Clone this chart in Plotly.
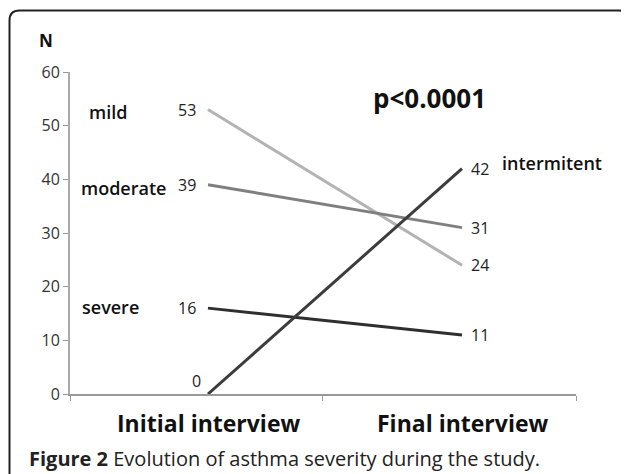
import plotly.graph_objects as go

# ---- data ----
stages = ["Initial interview", "Final interview"]
series_names = ["mild", "moderate", "severe", "intermitent"]
initial_vals = [53, 39, 16, 0]
final_vals = [24, 31, 11, 42]
series_colors = ["#b3b3b3", "#7f7f7f", "#2f2f2f", "#3c3c3c"]
y_ticks = [0, 10, 20, 30, 40, 50, 60]
p_text = "p<0.0001"

# page has an 8px body margin; work in window pixels and convert
OFF = 8
W, H = 629 - OFF, 474 - OFF
PLOT_L, PLOT_R, PLOT_T, PLOT_B = 70, 576, 72, 394   # window pixels
ML, MT = PLOT_L - OFF, PLOT_T - OFF
PW, PH = PLOT_R - PLOT_L, PLOT_B - PLOT_T
MR, MB = W - ML - PW, H - MT - PH

def px_x(px):
    return (px - PLOT_L) / PW

def px_y(py):
    return (PLOT_B - py) / PH

# data x positions: Initial at window x 208, Final at 462
X0PX, X1PX = 208, 462
def dx(px):
    return (px - X0PX) / (X1PX - X0PX)

def dy(py):
    return (PLOT_B - py) / PH * 60

fig = go.Figure()
xpos = [0, 1]
for name, a, b, c in zip(series_names, initial_vals, final_vals, series_colors):
    fig.add_trace(go.Scatter(x=xpos, y=[a, b], mode="lines",
                             line=dict(color=c, width=3), name=name,
                             showlegend=False, hoverinfo="skip"))

ann = []
font_val = dict(family="Open Sans", size=16, color="#222")
for name, a, b in zip(series_names, initial_vals, final_vals):
    if a == 0:
        ann.append(dict(x=0, y=a, text=str(a), showarrow=False, xanchor="right",
                        yanchor="bottom", xshift=-5, yshift=0, font=font_val))
    else:
        ann.append(dict(x=0, y=a, text=str(a), showarrow=False, xanchor="right",
                        yanchor="middle", xshift=-10, font=font_val))
    ann.append(dict(x=1, y=b, text=str(b), showarrow=False, xanchor="left",
                    yanchor="middle", xshift=7, font=font_val))

font_name = dict(family="Open Sans", size=18, color="#111", weight=600)
name_pos = {"mild": (87, 112), "moderate": (79, 188),
            "severe": (80, 307), "intermitent": (500, 163)}
for name in series_names:
    px, py = name_pos[name]
    ann.append(dict(x=dx(px), y=dy(py), text=name, showarrow=False, xanchor="left",
                    yanchor="middle", font=font_name))

ann.append(dict(x=dx(429), y=dy(98), text="<b>%s</b>" % p_text, showarrow=False,
                xanchor="center", yanchor="middle",
                font=dict(family="Open Sans", size=26, color="#111")))
ann.append(dict(x=px_x(46), y=px_y(40), xref="paper", yref="paper", text="<b>N</b>",
                xanchor="center", yanchor="middle",
                showarrow=False, font=dict(family="Open Sans", size=17, color="#111")))
for i, s in enumerate(stages):
    ann.append(dict(x=xpos[i], y=px_y(423), yref="paper", text="<b>%s</b>" % s,
                    showarrow=False, xanchor="center", yanchor="middle",
                    font=dict(family="Open Sans", size=23, color="#111")))
ann.append(dict(x=px_x(27), y=px_y(458), xref="paper", yref="paper", xanchor="left",
                yanchor="middle",
                text="<b>Figure 2</b> Evolution of asthma severity during the study.",
                showarrow=False, font=dict(family="Open Sans", size=20, color="#222")))

# frame (rounded rectangle, open at bottom, right side at the page edge)
x0, x1 = px_x(9.5), px_x(629)
y0, y1 = px_y(490), px_y(10.5)
rx, ry = 10 / PW, 10 / PH
path = (f"M {x0},{y0} L {x0},{y1-ry} Q {x0},{y1} {x0+rx},{y1} "
        f"L {x1-rx},{y1} Q {x1},{y1} {x1},{y1-ry}")

x_left = dx(PLOT_L)
x_right = dx(PLOT_R)
x_mid = dx(322)

fig.update_layout(
    width=W, height=H, margin=dict(l=ML, r=MR, t=MT, b=MB),
    paper_bgcolor="white", plot_bgcolor="white",
    annotations=ann,
    shapes=[dict(type="path", path=path, xref="paper", yref="paper",
                 line=dict(color="#222", width=2))],
    xaxis=dict(range=[x_left, x_right], tickvals=[x_left, x_mid, x_right],
               ticktext=["", "", ""], ticks="outside", ticklen=5, tickcolor="#999",
               showline=True, linecolor="#999", linewidth=2, showgrid=False,
               zeroline=False, fixedrange=True),
    yaxis=dict(range=[0, 60], tickvals=y_ticks, ticks="outside", ticklen=5,
               tickcolor="#999", showline=True, linecolor="#aaa", linewidth=2,
               showgrid=False, zeroline=False,
               tickfont=dict(family="Open Sans", size=16, color="#333")),
)

fig.write_html("out.html")
